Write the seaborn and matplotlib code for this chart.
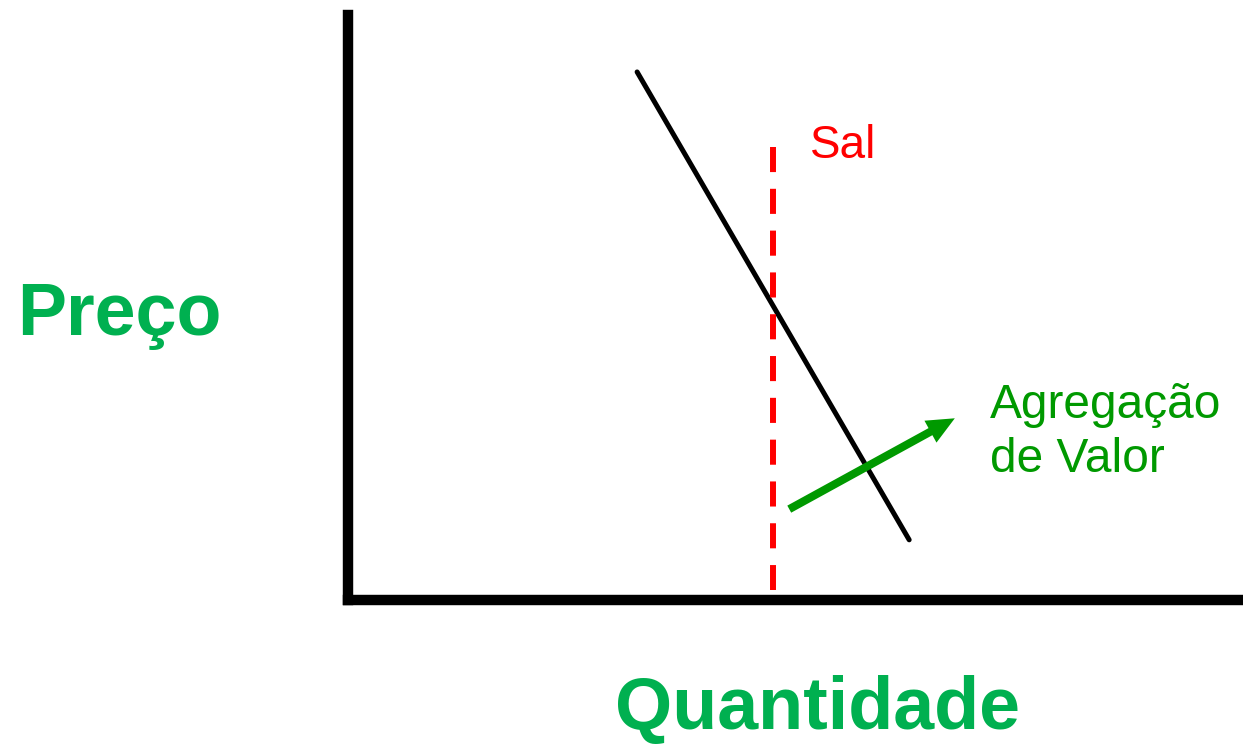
import pandas as pd
import matplotlib.pyplot as plt
import seaborn as sns

# chart values (axes run 0-100 in both directions)
demand_x = [32.3, 62.7]
demand_y = [89.5, 10.2]
sal_x = [47.5, 47.5]
sal_y = [76.8, 1.7]
arrow_start = (49.3, 15.4)
arrow_end = (67.8, 30.8)

x_label = "Quantidade"
y_label = "Preço"
sal_label = "Sal"
arrow_label = "Agregação\nde Valor"

sns.set_theme(style="white")
plt.rcParams['font.family'] = ['Liberation Sans', 'DejaVu Sans']

fig = plt.figure(figsize=(12.43, 7.46), dpi=100)
ax = fig.add_axes([0.28, 0.1957, 0.72, 0.7909])

demand = pd.DataFrame({'q': demand_x, 'p': demand_y})
sal = pd.DataFrame({'q': sal_x, 'p': sal_y})

sns.lineplot(data=demand, x='q', y='p', ax=ax, color='black', lw=3.6,
             estimator=None, sort=False)
sns.lineplot(data=sal, x='q', y='p', ax=ax, color='#ff0000', lw=4.3,
             estimator=None, sort=False, linestyle=(0, (4.2, 2.8)))

ax.annotate('', xy=arrow_end, xytext=arrow_start,
            arrowprops=dict(arrowstyle='simple,tail_width=0.58,head_width=1.8,head_length=2.0',
                            mutation_scale=10, lw=0, color='#009900',
                            shrinkA=0, shrinkB=0))

ax.text(51.6, 74.9, sal_label, color='#ff0000', fontsize=33, va='baseline')
# baseline anchor sits on the last line here
ax.text(71.7, 21.7, arrow_label, color='#009900', fontsize=34.5,
        va='baseline', linespacing=1.25)

ax.set_xlim(0, 100)
ax.set_ylim(0, 100)
ax.set_xticks([])
ax.set_yticks([])
ax.set_xlabel('')
ax.set_ylabel('')
for side in ['top', 'right']:
    ax.spines[side].set_visible(False)
for side in ['left', 'bottom']:
    ax.spines[side].set_color('black')
    ax.spines[side].set_linewidth(7.5)
ax.spines['left'].set_bounds(0, 99.2)

fig.text(17 / 1243, 0.551, y_label, color='#00b050', fontsize=53,
         fontweight='bold', va='baseline')
fig.text(615 / 1243, 0.023, x_label, color='#00b050', fontsize=53,
         fontweight='bold', va='baseline')

fig.savefig('out.png', dpi=100, facecolor='white')
